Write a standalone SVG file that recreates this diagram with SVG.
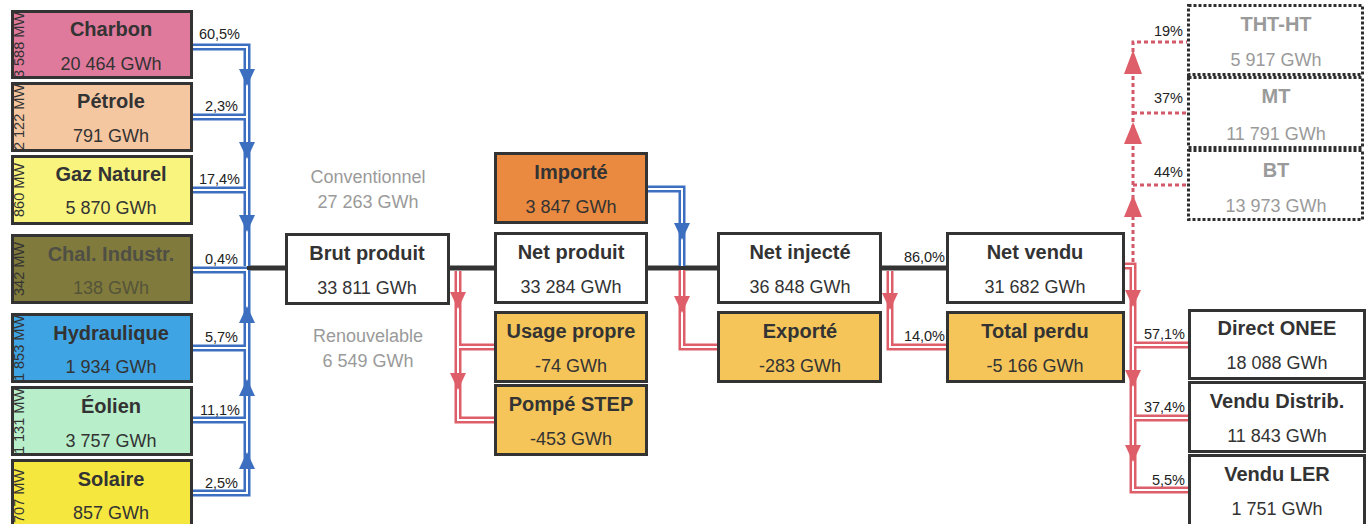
<svg xmlns="http://www.w3.org/2000/svg" width="1369" height="524" viewBox="0 0 1369 524">
<style>
.box{stroke:#333;stroke-width:3}
.dbox{fill:#fff;stroke:#2e2e2e;stroke-width:3;stroke-dasharray:3 2}
.t{font-family:"Liberation Sans",Arial,sans-serif;font-weight:bold;font-size:20px;fill:#333;text-anchor:middle}
.v{font-family:"Liberation Sans",Arial,sans-serif;font-size:18px;fill:#333;text-anchor:middle}
.mw{font-family:"Liberation Sans",Arial,sans-serif;font-size:14.5px;fill:#333;text-anchor:middle}
.p{font-family:"Liberation Sans",Arial,sans-serif;font-size:14.5px;fill:#222;text-anchor:end}
.g{fill:#9a9a9a}
.bo{fill:none;stroke:#3c6fbf;stroke-width:7}
.ro{fill:none;stroke:#de5f69;stroke-width:7}
.wi{fill:none;stroke:#fff;stroke-width:2}
.blk{fill:none;stroke:#333;stroke-width:5}
.dot{fill:none;stroke:#d2596a;stroke-width:3;stroke-dasharray:4 3}
.ba{fill:#3c6fbf}
.ra{fill:#de5f69}
</style>
<rect width="1369" height="524" fill="#fff"/>
<g id="connectors">
<path class="blk" d="M247,268H286M449,268H496M647,268H718M881,268H947"/>
<g id="blue">
<path class="bo" d="M192,47H247V266M192,117H247M192,190H247M192,270H247M192,348H247M192,420H247M192,493H247V270M647,189H682V266"/>
<path class="wi" d="M192,47H247V266M192,117H247M192,190H247M192,270H247M192,348H247M192,420H247M192,493H247V270M647,189H682V266"/>
</g>
<g id="red">
<path class="ro" d="M458,271V420H495M458,347H495M682,270V347H718M890,271V347H947M1124,266H1133V490H1188M1133,345H1188M1133,418H1188"/>
<path class="wi" d="M458,271V420H495M458,347H495M682,270V347H718M890,271V347H947M1124,266H1133V490H1188M1133,345H1188M1133,418H1188"/>
</g>
<path class="dot" d="M1133,262V42H1187M1133,113H1187M1133,185H1187"/>
<g id="arrows">
<polygon class="ba" points="239,69 255,69 247,86"/>
<polygon class="ba" points="239,142 255,142 247,159"/>
<polygon class="ba" points="239,215 255,215 247,232"/>
<polygon class="ba" points="239,323 255,323 247,306"/>
<polygon class="ba" points="239,396 255,396 247,379"/>
<polygon class="ba" points="239,469 255,469 247,452"/>
<polygon class="ba" points="674,223 690,223 682,240"/>
<polygon class="ra" points="450,292 466,292 458,309"/>
<polygon class="ra" points="450,373 466,373 458,390"/>
<polygon class="ra" points="674,296 690,296 682,313"/>
<polygon class="ra" points="882,293 898,293 890,310"/>
<polygon class="ra" points="1125,290 1141,290 1133,307"/>
<polygon class="ra" points="1125,370 1141,370 1133,387"/>
<polygon class="ra" points="1125,445 1141,445 1133,462"/>
<polygon class="ra" points="1124,74 1142,74 1133,50"/>
<polygon class="ra" points="1124,144 1142,144 1133,122"/>
<polygon class="ra" points="1124,217 1142,217 1133,195"/>
</g>
<g id="labels">
<text class="p" x="240" y="39">60,5%</text>
<text class="p" x="238" y="111">2,3%</text>
<text class="p" x="240" y="184">17,4%</text>
<text class="p" x="238" y="264">0,4%</text>
<text class="p" x="238" y="342">5,7%</text>
<text class="p" x="240" y="415">11,1%</text>
<text class="p" x="238" y="488">2,5%</text>
<text class="p" x="945" y="262">86,0%</text>
<text class="p" x="945" y="341">14,0%</text>
<text class="p" x="1185" y="339">57,1%</text>
<text class="p" x="1185" y="412">37,4%</text>
<text class="p" x="1185" y="485">5,5%</text>
<text class="p" x="1183" y="36">19%</text>
<text class="p" x="1183" y="103">37%</text>
<text class="p" x="1183" y="177">44%</text>
</g>
</g>
<g id="charbon"><rect class="box" x="12.5" y="11.5" width="179" height="66" fill="#e07a9c"/><text class="mw" transform="translate(24,45) rotate(-90)">3 588 MW</text><text class="t" x="111" y="36">Charbon</text><text class="v" x="111" y="70">20 464 GWh</text></g>
<g id="petrole"><rect class="box" x="12.5" y="83.5" width="179" height="67" fill="#f5c7a1"/><text class="mw" transform="translate(24,117) rotate(-90)">2 122 MW</text><text class="t" x="111" y="108">Pétrole</text><text class="v" x="111" y="142">791 GWh</text></g>
<g id="gaz"><rect class="box" x="12.5" y="156.5" width="179" height="67" fill="#f8f47e"/><text class="mw" transform="translate(24,190) rotate(-90)">860 MW</text><text class="t" x="111" y="181">Gaz Naturel</text><text class="v" x="111" y="214">5 870 GWh</text></g>
<g id="chal"><rect class="box" x="12.5" y="235.5" width="179" height="67" fill="#807b3c"/><text class="mw" transform="translate(24,269) rotate(-90)" fill="#4a4a38">342 MW</text><text class="t" x="111" y="261" style="fill:#4f4f45">Chal. Industr.</text><text class="v" x="111" y="294" style="fill:#55543a">138 GWh</text></g>
<g id="hydraulique"><rect class="box" x="12.5" y="314.5" width="179" height="67" fill="#3fa4e3"/><text class="mw" transform="translate(24,348) rotate(-90)">1 853 MW</text><text class="t" x="111" y="340">Hydraulique</text><text class="v" x="111" y="373">1 934 GWh</text></g>
<g id="eolien"><rect class="box" x="12.5" y="387.5" width="179" height="67" fill="#b8eec9"/><text class="mw" transform="translate(24,421) rotate(-90)">1 131 MW</text><text class="t" x="111" y="413">Éolien</text><text class="v" x="111" y="447">3 757 GWh</text></g>
<g id="solaire"><rect class="box" x="12.5" y="460.5" width="179" height="72" fill="#f6e73f"/><text class="mw" transform="translate(24,496) rotate(-90)">707 MW</text><text class="t" x="111" y="486">Solaire</text><text class="v" x="111" y="519">857 GWh</text></g>
<g id="conv"><text class="v g" x="368" y="183">Conventionnel</text><text class="v g" x="368" y="208">27 263 GWh</text></g>
<g id="renouv"><text class="v g" x="368" y="342">Renouvelable</text><text class="v g" x="368" y="367">6 549 GWh</text></g>
<g id="brut"><rect class="box" x="286.5" y="234.5" width="162" height="69" fill="#fff"/><text class="t" x="367" y="260">Brut produit</text><text class="v" x="367" y="294">33 811 GWh</text></g>
<g id="importe"><rect class="box" x="495.5" y="153.5" width="151" height="69" fill="#ea8a40"/><text class="t" x="571" y="179">Importé</text><text class="v" x="571" y="213">3 847 GWh</text></g>
<g id="netproduit"><rect class="box" x="495.5" y="233.5" width="151" height="69" fill="#fff"/><text class="t" x="571" y="259">Net produit</text><text class="v" x="571" y="293">33 284 GWh</text></g>
<g id="usage"><rect class="box" x="495.5" y="312.5" width="151" height="69" fill="#f5c55a"/><text class="t" x="571" y="338">Usage propre</text><text class="v" x="571" y="372">-74 GWh</text></g>
<g id="pompe"><rect class="box" x="495.5" y="385.5" width="151" height="69" fill="#f5c55a"/><text class="t" x="571" y="411">Pompé STEP</text><text class="v" x="571" y="445">-453 GWh</text></g>
<g id="netinjecte"><rect class="box" x="718.5" y="233.5" width="162" height="69" fill="#fff"/><text class="t" x="800" y="259">Net injecté</text><text class="v" x="800" y="293">36 848 GWh</text></g>
<g id="exporte"><rect class="box" x="718.5" y="312.5" width="162" height="69" fill="#f5c55a"/><text class="t" x="800" y="338">Exporté</text><text class="v" x="800" y="372">-283 GWh</text></g>
<g id="netvendu"><rect class="box" x="947.5" y="233.5" width="176" height="69" fill="#fff"/><text class="t" x="1035" y="259">Net vendu</text><text class="v" x="1035" y="293">31 682 GWh</text></g>
<g id="perdu"><rect class="box" x="947.5" y="312.5" width="176" height="69" fill="#f5c55a"/><text class="t" x="1035" y="338">Total perdu</text><text class="v" x="1035" y="372">-5 166 GWh</text></g>
<g id="tht"><rect class="dbox" x="1188.5" y="5.5" width="174" height="69"/><text class="t g" x="1276" y="31">THT-HT</text><text class="v g" x="1276" y="66">5 917 GWh</text></g>
<g id="mt"><rect class="dbox" x="1188.5" y="77.5" width="174" height="70"/><text class="t g" x="1276" y="103">MT</text><text class="v g" x="1276" y="140">11 791 GWh</text></g>
<g id="bt"><rect class="dbox" x="1188.5" y="150.5" width="174" height="69"/><text class="t g" x="1276" y="177">BT</text><text class="v g" x="1276" y="212">13 973 GWh</text></g>
<g id="direct"><rect class="box" x="1189.5" y="310.5" width="175" height="68" fill="#fff"/><text class="t" x="1277" y="335">Direct ONEE</text><text class="v" x="1277" y="369">18 088 GWh</text></g>
<g id="distrib"><rect class="box" x="1189.5" y="382.5" width="175" height="69" fill="#fff"/><text class="t" x="1277" y="408">Vendu Distrib.</text><text class="v" x="1277" y="442">11 843 GWh</text></g>
<g id="ler"><rect class="box" x="1189.5" y="455.5" width="175" height="72" fill="#fff"/><text class="t" x="1277" y="481">Vendu LER</text><text class="v" x="1277" y="515">1 751 GWh</text></g>
</svg>
